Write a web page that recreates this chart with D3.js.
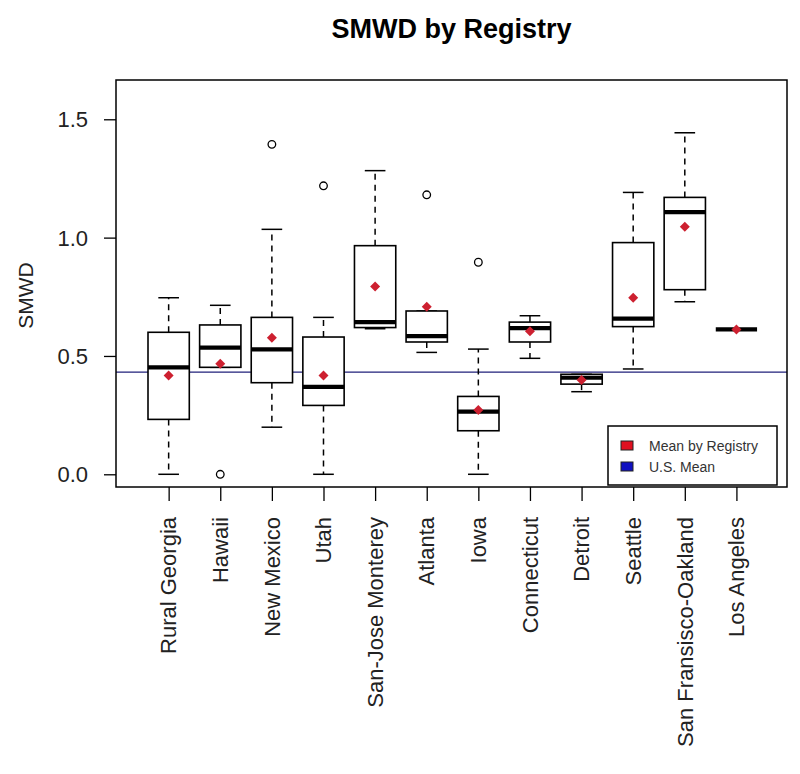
<!DOCTYPE html>
<html><head><meta charset="utf-8">
<script src="https://cdn.jsdelivr.net/npm/d3@7"></script>
<style>body{margin:0;background:#fff}</style>
</head><body>
<svg id="c" width="800" height="774"></svg>
<script>
const categories = ["Rural Georgia","Hawaii","New Mexico","Utah","San-Jose Monterey","Atlanta","Iowa","Connecticut","Detroit","Seattle","San Fransisco-Oakland","Los Angeles"];
const whiskerLow  = [0.000,0.452,0.199,0.000,0.615,0.515,0.000,0.490,0.349,0.445,0.729,0.612];
const q1          = [0.232,0.452,0.387,0.291,0.620,0.559,0.184,0.559,0.381,0.624,0.780,0.612];
const medians     = [0.452,0.535,0.528,0.369,0.643,0.584,0.265,0.618,0.408,0.658,1.108,0.612];
const q3          = [0.600,0.631,0.663,0.580,0.966,0.690,0.329,0.643,0.4225,0.979,1.170,0.612];
const whiskerHigh = [0.746,0.714,1.035,0.663,1.283,0.690,0.529,0.670,0.4225,1.191,1.443,0.612];
const means       = [0.417,0.467,0.577,0.417,0.793,0.708,0.272,0.604,0.398,0.746,1.046,0.612];
const outliers    = [[],[0.0],[1.394],[1.219],[],[1.181],[0.896],[],[],[],[],[]];
const usMean = 0.432;
const yTicks = [0.0,0.5,1.0,1.5];
const title = "SMWD by Registry";
const yLabel = "SMWD";
const legendLabels = ["Mean by Registry","U.S. Mean"];
const legendColors = ["#e01020","#1010c0"];

const svg = d3.select("#c");
const L=116,R=787,T=80,B=487;
const x = d3.scaleLinear().domain([-0.02,12.98]).range([L,R]);
const y = d3.scaleLinear().domain([-0.0537,1.666]).range([B,T]);
const unit = x(1)-x(0);
const hw = 0.4*unit, cw = 0.2*unit;
const font = "Liberation Sans, Arial, sans-serif";

const data = categories.map((c,i)=>({c,i:i+1,wl:whiskerLow[i],q1:q1[i],md:medians[i],q3:q3[i],wh:whiskerHigh[i],mean:means[i],out:outliers[i]}));

// US mean line
svg.append("line").attr("x1",L).attr("x2",R).attr("y1",y(usMean)).attr("y2",y(usMean))
  .attr("stroke","#20207a").attr("stroke-width",1.2);

const g = svg.append("g").selectAll("g").data(data).join("g");
// whiskers dashed
g.append("line").attr("x1",d=>x(d.i)).attr("x2",d=>x(d.i)).attr("y1",d=>y(d.q3)).attr("y2",d=>y(d.wh))
  .attr("stroke","#000").attr("stroke-width",1.5).attr("stroke-dasharray","6,5");
g.append("line").attr("x1",d=>x(d.i)).attr("x2",d=>x(d.i)).attr("y1",d=>y(d.q1)).attr("y2",d=>y(d.wl))
  .attr("stroke","#000").attr("stroke-width",1.5).attr("stroke-dasharray","6,5");
// caps
g.append("line").attr("x1",d=>x(d.i)-cw).attr("x2",d=>x(d.i)+cw).attr("y1",d=>y(d.wh)).attr("y2",d=>y(d.wh))
  .attr("stroke","#000").attr("stroke-width",1.5);
g.append("line").attr("x1",d=>x(d.i)-cw).attr("x2",d=>x(d.i)+cw).attr("y1",d=>y(d.wl)).attr("y2",d=>y(d.wl))
  .attr("stroke","#000").attr("stroke-width",1.5);
// box
g.append("rect").attr("x",d=>x(d.i)-hw).attr("width",2*hw).attr("y",d=>y(d.q3)).attr("height",d=>y(d.q1)-y(d.q3))
  .attr("fill","#fff").attr("stroke","#000").attr("stroke-width",1.6);
// median
g.append("line").attr("x1",d=>x(d.i)-hw).attr("x2",d=>x(d.i)+hw).attr("y1",d=>y(d.md)).attr("y2",d=>y(d.md))
  .attr("stroke","#000").attr("stroke-width",4.2);
// outliers
g.selectAll("circle").data(d=>d.out.map(v=>({i:d.i,v}))).join("circle")
  .attr("cx",d=>x(d.i)).attr("cy",d=>y(d.v)).attr("r",3.8).attr("fill","none").attr("stroke","#000").attr("stroke-width",1.3);
// means
g.append("path").attr("d","M0,-5L5,0L0,5L-5,0Z").attr("transform",d=>`translate(${x(d.i)},${y(d.mean)})`)
  .attr("fill","#cd2030");

// frame
svg.append("rect").attr("x",L).attr("y",T).attr("width",R-L).attr("height",B-T)
  .attr("fill","none").attr("stroke","#000").attr("stroke-width",1.5);

// y axis
const ya = svg.append("g").attr("transform",`translate(${L},0)`)
  .call(d3.axisLeft(y).tickValues(yTicks).tickFormat(d3.format(".1f")).tickSize(12).tickPadding(16));
ya.select(".domain").remove();
ya.selectAll("line").attr("stroke","#000").attr("stroke-width",1.3);
ya.selectAll("text").attr("font-family",font).attr("font-size",22).attr("fill","#222").attr("dy","0.35em");

// x axis
const xa = svg.append("g").attr("transform",`translate(0,${B})`)
  .call(d3.axisBottom(x).tickValues(d3.range(1,13)).tickFormat(i=>categories[i-1]).tickSize(14));
xa.select(".domain").remove();
xa.selectAll("line").attr("stroke","#000").attr("stroke-width",1.3);
xa.selectAll("text").attr("font-family",font).attr("font-size",22).attr("fill","#222")
  .attr("transform","rotate(-90)").attr("text-anchor","end").attr("x",-30).attr("y",0).attr("dy","0.33em").attr("dx",0);

// title
svg.append("text").attr("x",(L+R)/2).attr("y",38).attr("text-anchor","middle")
  .attr("font-family",font).attr("font-weight","bold").attr("font-size",27).text(title);
// y label
svg.append("text").attr("transform",`translate(33,${(T+B)/2+12}) rotate(-90)`).attr("text-anchor","middle")
  .attr("font-family",font).attr("font-size",21).attr("fill","#222").text(yLabel);

// legend
const lg = svg.append("g");
lg.append("rect").attr("x",608).attr("y",426).attr("width",169).attr("height",59)
  .attr("fill","#fff").attr("stroke","#000").attr("stroke-width",1.5);
legendLabels.forEach((t,k)=>{
  lg.append("rect").attr("x",621).attr("y",441+k*21).attr("width",12).attr("height",9)
    .attr("fill",legendColors[k]).attr("stroke","#222").attr("stroke-width",1);
  lg.append("text").attr("x",649).attr("y",451+k*21).attr("font-family",font).attr("font-size",14)
    .attr("fill","#333").text(t);
});
</script>
</body></html>
